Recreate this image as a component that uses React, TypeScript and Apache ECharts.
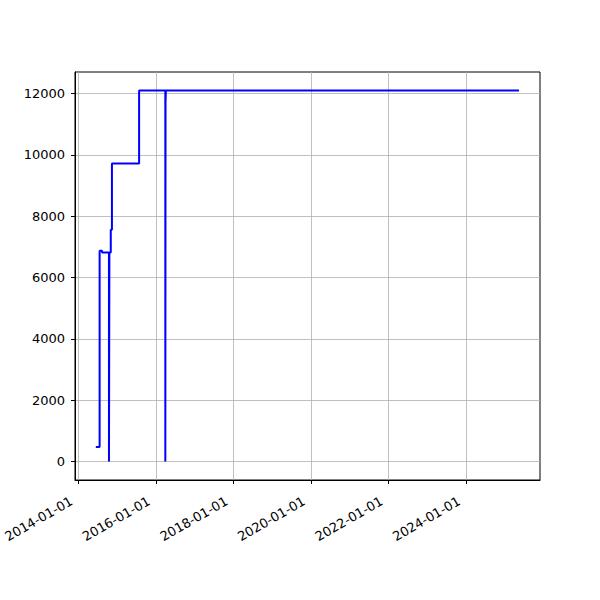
import React, { useEffect, useRef } from "react";
import * as echarts from "echarts";

// Step line data (value changes at each date, held until the next one)
const dates: string[] = [
  "2014-06-14",
  "2014-07-20",
  "2014-08-12",
  "2014-10-16",
  "2014-10-20",
  "2014-11-02",
  "2014-11-13",
  "2015-07-27",
  "2016-03-30",
  "2016-04-01",
  "2016-04-04",
  "2025-05-14",
];
const values: number[] = [470, 6870, 6820, 0, 6820, 7560, 9720, 12100, 0, 11700, 12100, 12100];

const xTickDates: string[] = [
  "2014-01-01",
  "2016-01-01",
  "2018-01-01",
  "2020-01-01",
  "2022-01-01",
  "2024-01-01",
];
const yTicks: number[] = [0, 2000, 4000, 6000, 8000, 10000, 12000];

const xMinDate = "2013-11-30";
const xMaxDate = "2025-11-28";
const yMin = -605;
const yMax = 12705;

const toTs = (s: string) => {
  const [y, m, d] = s.split("-").map(Number);
  return Date.UTC(y, m - 1, d);
};
const fmt = (v: number) => {
  const d = new Date(v);
  const p = (n: number) => String(n).padStart(2, "0");
  return `${d.getUTCFullYear()}-${p(d.getUTCMonth() + 1)}-${p(d.getUTCDate())}`;
};

const FONT = "DejaVu Sans";

export default function App() {
  const ref = useRef<HTMLDivElement>(null);
  useEffect(() => {
    if (!ref.current) return;
    const chart = echarts.init(ref.current, undefined, { renderer: "svg" });
    const xTicks = xTickDates.map(toTs);
    chart.setOption({
      animation: false,
      backgroundColor: "#ffffff",
      grid: {
        left: 75,
        right: 60,
        top: 72,
        bottom: 120,
        show: true,
        borderColor: "#000000",
        borderWidth: 1,
        backgroundColor: "transparent",
      },
      xAxis: {
        type: "value",
        min: toTs(xMinDate),
        max: toTs(xMaxDate),
        axisLine: { show: true, onZero: false, lineStyle: { color: "#000", width: 1 } },
        axisTick: { show: true, length: 4, customValues: xTicks, lineStyle: { color: "#000", width: 1 } },
        axisLabel: {
          customValues: xTicks,
          formatter: (v: number) => fmt(v),
          rotate: 30,
          fontSize: 13,
          fontFamily: FONT,
          color: "#000",
          margin: 16,
          padding: [0, 8, 0, 0],
        },
        splitLine: { show: true, lineStyle: { color: "#b0b0b0", width: 0.8 } },
      },
      yAxis: {
        type: "value",
        min: yMin,
        max: yMax,
        axisLine: { show: true, onZero: false, lineStyle: { color: "#000", width: 1 } },
        axisTick: { show: true, length: 4, customValues: yTicks, lineStyle: { color: "#000", width: 1 } },
        axisLabel: {
          customValues: yTicks,
          formatter: (v: number) => String(v),
          fontSize: 13,
          fontFamily: FONT,
          color: "#000",
          margin: 10,
        },
        splitLine: { show: true, lineStyle: { color: "#b0b0b0", width: 0.8 } },
      },
      series: [
        {
          type: "line",
          step: "end",
          data: dates.map((d, i) => [toTs(d), values[i]]),
          showSymbol: false,
          symbol: "none",
          lineStyle: { color: "#0000ff", width: 2 },
          silent: true,
        },
      ],
    });
    return () => chart.dispose();
  }, []);
  return (
    <div
      ref={ref}
      style={{ position: "fixed", left: 0, top: 0, width: 600, height: 600, background: "#fff" }}
    />
  );
}
